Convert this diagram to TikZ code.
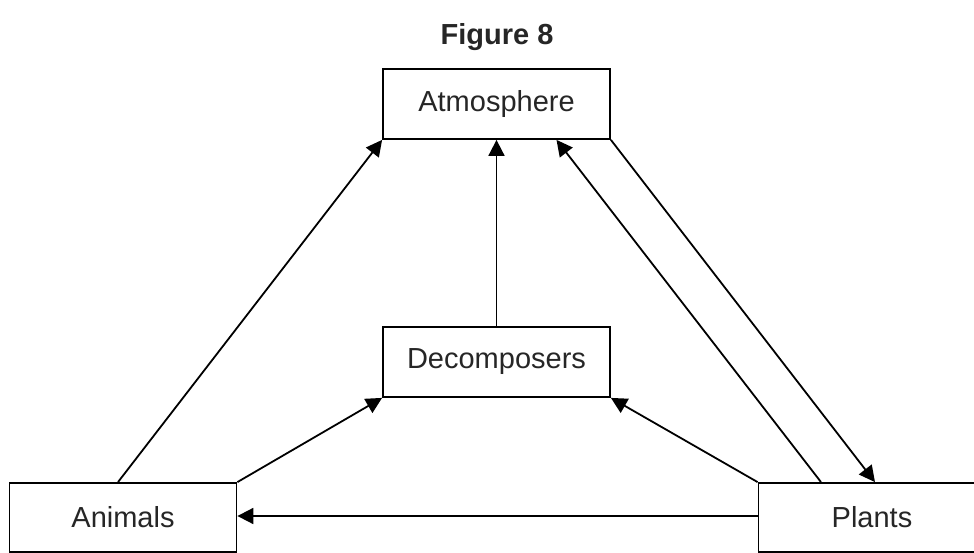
\documentclass[tikz,border=0pt]{standalone}
\usepackage{fontspec}
\setmainfont{Liberation Sans}
\usepackage{tikz}
\usetikzlibrary{arrows.meta,positioning}

\tikzset{
    box/.style={draw, line width=1.8pt, minimum width=227pt, minimum height=70pt, inner sep=0pt,
        font=\fontsize{29}{34}\selectfont, text=black!85},
    flow/.style={-{Triangle[length=16pt,width=16pt]}, line width=1.8pt}
}

\begin{document}
\begin{tikzpicture}[x=1pt, y=-1pt]
    \useasboundingbox (0,0) rectangle (974,553);

    % Title
    \node[font=\fontsize{29}{34}\selectfont\bfseries, text=black!85] (title) at (497,37) {Figure 8};

    % Boxes
    \node[box] (atm) at (496.5,104) {Atmosphere};
    \node[box] (dec) at (496.5,362) {Decomposers};
    \node[box, minimum height=69pt] (anim) at (123,517.5) {Animals};
    \node[box, minimum height=69pt] (pl) at (872,517.5) {Plants};

    % Arrows
    \draw[flow] ([xshift=-5pt]anim.north) -- (atm.south west);
    \draw[flow] (anim.north east) -- (dec.south west);
    \draw[flow] (dec.north) -- (atm.south);
    \draw[flow] (pl.north west) -- (dec.south east);
    \draw[flow] ([xshift=-51pt]pl.north) -- ([xshift=60pt]atm.south);
    \draw[flow] (atm.south east) -- ([xshift=3pt]pl.north);
    \draw[flow] ([yshift=1.5pt]pl.west) -- ([yshift=1.5pt]anim.east);
\end{tikzpicture}
\end{document}
